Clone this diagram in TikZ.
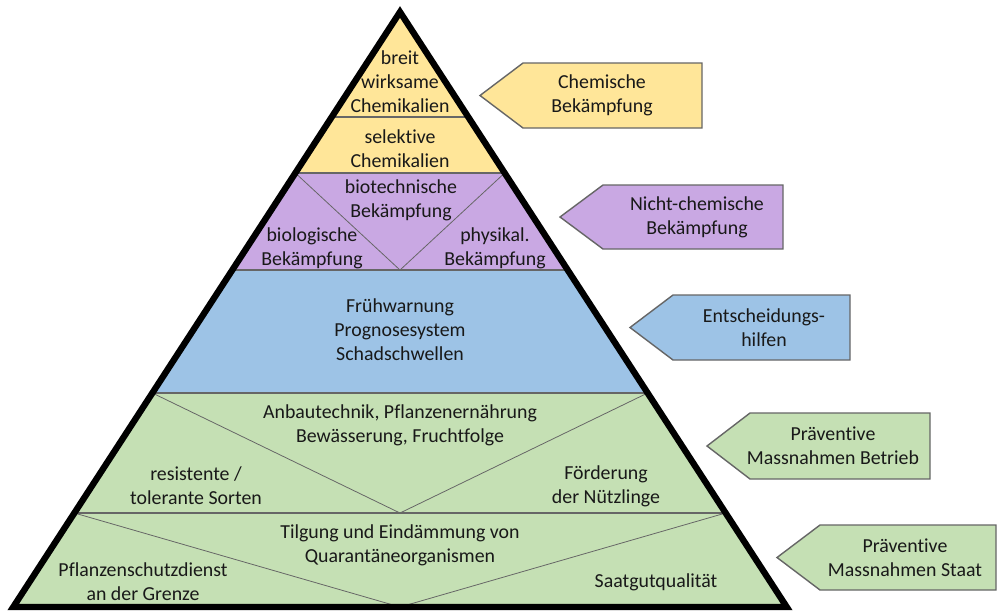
\documentclass[tikz,border=0pt]{standalone}
\usepackage{fontspec}
\setmainfont{Carlito}[Ligatures=NoCommon]
\definecolor{gelb}{HTML}{FFE699}
\definecolor{lila}{HTML}{C9A8E3}
\definecolor{blau}{HTML}{9DC3E6}
\definecolor{gruen}{HTML}{C5E0B4}
\tikzset{
  feld/.style={align=center, font=\fontsize{11.3}{13.7}\selectfont, text=black!90, inner sep=0pt},
  trenn/.style={draw=black!60, line width=0.6pt},
  diag/.style={draw=black!60, line width=0.45pt},
  pfeil/.style={draw=black!60, line width=0.8pt, line join=miter},
}
\begin{document}
\begin{tikzpicture}[x=0.02cm, y=-0.02cm]
  \useasboundingbox (0,0) rectangle (998,613);
  % Eckpunkte der Pyramide
  \coordinate (A) at (400,12);
  \coordinate (L) at (13.25,607);
  \coordinate (R) at (786.75,607);
  \coordinate (l1) at (331.75,117); \coordinate (r1) at (468.25,117);
  \coordinate (l2) at (295.35,173); \coordinate (r2) at (504.65,173);
  \coordinate (l3) at (232.3,270);  \coordinate (r3) at (567.7,270);
  \coordinate (l4) at (152.35,393); \coordinate (r4) at (647.65,393);
  \coordinate (l5) at (74.35,513);  \coordinate (r5) at (725.65,513);
  \coordinate (m3) at (400,270);
  \coordinate (m5) at (400,513);
  \coordinate (mB) at (400,607);
  % Flaechen
  \fill[gelb] (A) -- (l3) -- (r3) -- cycle;
  \fill[lila] (l2) -- (l3) -- (r3) -- (r2) -- cycle;
  \fill[blau] (l3) -- (l4) -- (r4) -- (r3) -- cycle;
  \fill[gruen] (l4) -- (L) -- (R) -- (r4) -- cycle;
  \draw[trenn] (l1) -- (r1) (l2) -- (r2) (l3) -- (r3) (l4) -- (r4) (l5) -- (r5);
  \draw[diag] (l2) -- (m3) -- (r2) (l4) -- (m5) -- (r4) (l5) -- (mB) -- (r5);
  \draw[line width=3.6pt, line join=miter] (A) -- (L) -- (R) -- cycle;
  % Beschriftung
  \node[feld] (breit) at (400,82) {breit\\wirksame\\Chemikalien};
  \node[feld] (selektiv) at (400,149) {selektive\\Chemikalien};
  \node[feld] (biotech) at (401,200) {biotechnische\\Bekämpfung};
  \node[feld] (biolog) at (312,248) {biologische\\Bekämpfung};
  \node[feld] (physik) at (495,248) {physikal.\\Bekämpfung};
  \node[feld] (prognose) at (400,330) {Frühwarnung\\Prognosesystem\\Schadschwellen};
  \node[feld] (anbau) at (400,425) {Anbautechnik, Pflanzenernährung\\Bewässerung, Fruchtfolge};
  \node[feld] (resistent) at (196,486) {resistente /\\tolerante Sorten};
  \node[feld] (foerderung) at (606,486) {Förderung\\der Nützlinge};
  \node[feld] (tilgung) at (400,545) {Tilgung und Eindämmung von\\Quarantäneorganismen};
  \node[feld] (grenze) at (143,582) {Pflanzenschutzdienst\\an der Grenze};
  \node[feld] (saatgut) at (656,582) {Saatgutqualität};
  % Pfeile rechts
  \foreach \name/\tip/\oben/\unten/\rechts/\farbe/\txt/\tx in {
    chem/480/63/128/702/gelb/{Chemische\\Bekämpfung}/602,
    nicht/560/185/249/783/lila/{Nicht-chemische\\Bekämpfung}/697,
    entsch/630/295/360/850/blau/{Entscheidungs-\\hilfen}/764,
    betrieb/707/413/479/930/gruen/{Präventive\\Massnahmen Betrieb}/833,
    staat/777/525/590/996/gruen/{Präventive\\Massnahmen Staat}/905}
  {
    \draw[pfeil, fill=\farbe] (\tip,{(\oben+\unten)/2}) -- (\tip+43,\oben) -- (\rechts,\oben)
      -- (\rechts,\unten) -- (\tip+43,\unten) -- cycle;
    \node[feld] (\name) at (\tx,{(\oben+\unten)/2}) {\txt};
  }
\end{tikzpicture}
\end{document}
